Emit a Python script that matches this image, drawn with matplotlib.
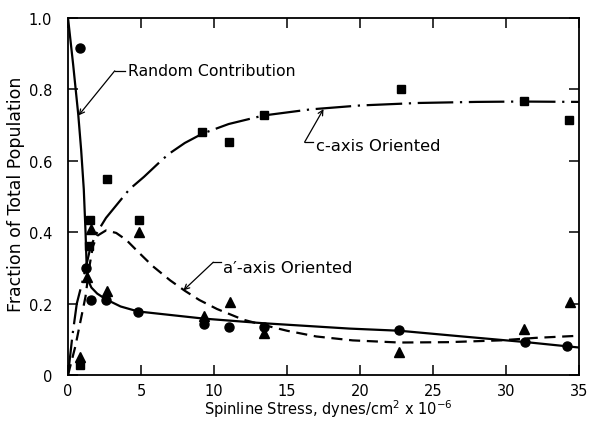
import matplotlib
matplotlib.use("Agg")
import matplotlib.pyplot as plt

# Measured fractions of each population vs. spinline stress
random_x = [0.8, 1.2, 1.6, 2.6, 4.8, 9.3, 11.0, 13.4, 22.7, 31.3, 34.2]
random_y = [0.915, 0.30, 0.21, 0.21, 0.177, 0.142, 0.135, 0.135, 0.127, 0.092, 0.08]

c_axis_x = [0.85, 1.5, 1.45, 2.65, 4.85, 9.2, 11.05, 13.4, 22.8, 31.2, 34.3]
c_axis_y = [0.028, 0.433, 0.36, 0.549, 0.434, 0.68, 0.653, 0.728, 0.801, 0.768, 0.714]

a_axis_x = [0.85, 1.3, 1.55, 2.7, 4.85, 9.3, 11.1, 13.4, 22.7, 31.2, 34.4]
a_axis_y = [0.05, 0.275, 0.41, 0.235, 0.40, 0.166, 0.205, 0.118, 0.065, 0.13, 0.205]

# Hand-drawn trend curves
random_curve_x = [0, 0.35, 0.7, 0.9, 1.08, 1.2, 1.28, 1.38, 1.6, 2.0, 2.6, 3.6, 4.8,
                  9.3, 13.4, 19.3, 22.7, 27.0, 31.4, 35.0]
random_curve_y = [1.0, 0.87, 0.73, 0.63, 0.52, 0.40, 0.30, 0.265, 0.245, 0.228, 0.212,
                  0.192, 0.178, 0.158, 0.145, 0.130, 0.124, 0.108, 0.092, 0.077]

c_curve_x = [0, 0.3, 0.6, 1.1, 1.55, 2.0, 2.6, 3.2, 4.2, 5.2, 6.5, 7.0, 8.0, 9.2, 11.0,
             13.4, 16.6, 20.0, 24.0, 28.0, 31.0, 35.0]
c_curve_y = [0.0, 0.11, 0.20, 0.28, 0.36, 0.40, 0.44, 0.47, 0.52, 0.555, 0.605, 0.622,
             0.65, 0.676, 0.703, 0.727, 0.744, 0.755, 0.762, 0.765, 0.766, 0.765]

a_curve_x = [0, 0.5, 0.9, 1.2, 1.45, 1.7, 2.0, 2.6, 3.3, 4.0, 4.8, 5.8, 7.0, 8.0, 9.0,
             10.2, 12.0, 13.4, 15.0, 17.0, 19.5, 22.7, 26.0, 29.6, 32.0, 35.0]
a_curve_y = [0.0, 0.08, 0.16, 0.22, 0.30, 0.36, 0.39, 0.405, 0.398, 0.378, 0.345, 0.305,
             0.265, 0.236, 0.21, 0.185, 0.155, 0.14, 0.124, 0.108, 0.097, 0.091, 0.092,
             0.097, 0.104, 0.11]

x_ticks = [0, 5, 10, 15, 20, 25, 30, 35]
y_ticks = [0, 0.2, 0.4, 0.6, 0.8, 1.0]
y_tick_labels = ["0", "0.2", "0.4", "0.6", "0.8", "1.0"]

plt.rcParams["font.family"] = ["DejaVu Sans"]

fig = plt.figure(figsize=(5.92, 4.27), dpi=100)
ax = fig.add_axes([0.1149, 0.1194, 0.8632, 0.8361])

ax.plot(random_curve_x, random_curve_y, color="black", lw=1.6, solid_capstyle="butt")
ax.plot(c_curve_x, c_curve_y, color="black", lw=1.6, linestyle=(0, (16, 3, 1, 3)))
ax.plot(a_curve_x, a_curve_y, color="black", lw=1.6, linestyle=(0, (5, 3)))

ax.plot(random_x, random_y, "o", color="black", ms=6.5, zorder=3)
ax.plot(c_axis_x, c_axis_y, "s", color="black", ms=6.3, zorder=3)
ax.plot(a_axis_x, a_axis_y, "^", color="black", ms=7, zorder=3)

arrow = dict(arrowstyle="->", color="black", lw=0.9, shrinkA=0, shrinkB=0,
             mutation_scale=9)

# Random Contribution label with leader
ax.plot([3.2, 3.9], [0.852, 0.852], color="black", lw=0.9)
ax.annotate("", xy=(0.72, 0.727), xytext=(3.2, 0.852), arrowprops=arrow)
ax.text(4.1, 0.852, "Random Contribution", fontsize=11.3, va="center", ha="left")

# c-axis label with leader
ax.plot([16.2, 16.75], [0.652, 0.652], color="black", lw=0.9)
ax.annotate("", xy=(17.5, 0.745), xytext=(16.2, 0.652), arrowprops=arrow)
ax.text(17.0, 0.642, "c-axis Oriented", fontsize=11.8, va="center", ha="left")

# a'-axis label with leader
ax.plot([9.95, 10.5], [0.316, 0.316], color="black", lw=0.9)
ax.annotate("", xy=(7.9, 0.237), xytext=(9.95, 0.316), arrowprops=arrow)
ax.text(10.6, 0.30, "a\u2032-axis Oriented", fontsize=11.8, va="center", ha="left")

ax.set_xlim(0, 35)
ax.set_ylim(0, 1.0)
ax.set_xticks(x_ticks)
ax.set_xticklabels([str(t) for t in x_ticks])
ax.set_yticks(y_ticks)
ax.set_yticklabels(y_tick_labels)

ax.tick_params(direction="in", top=True, right=True, length=7, width=1.1,
               labelsize=10.5)
ax.tick_params(axis="y", pad=11.5)
ax.tick_params(axis="x", pad=6)
for sp in ax.spines.values():
    sp.set_linewidth(1.3)

ax.set_xlabel(r"Spinline Stress, dynes/cm$^{2}$ x 10$^{-6}$", fontsize=10.5)
ax.set_ylabel("Fraction of Total Population", fontsize=12.5)
ax.xaxis.set_label_coords(0.51, -0.062)
ax.yaxis.set_label_coords(-0.084, 0.51)

fig.savefig("out.png", dpi=100)
